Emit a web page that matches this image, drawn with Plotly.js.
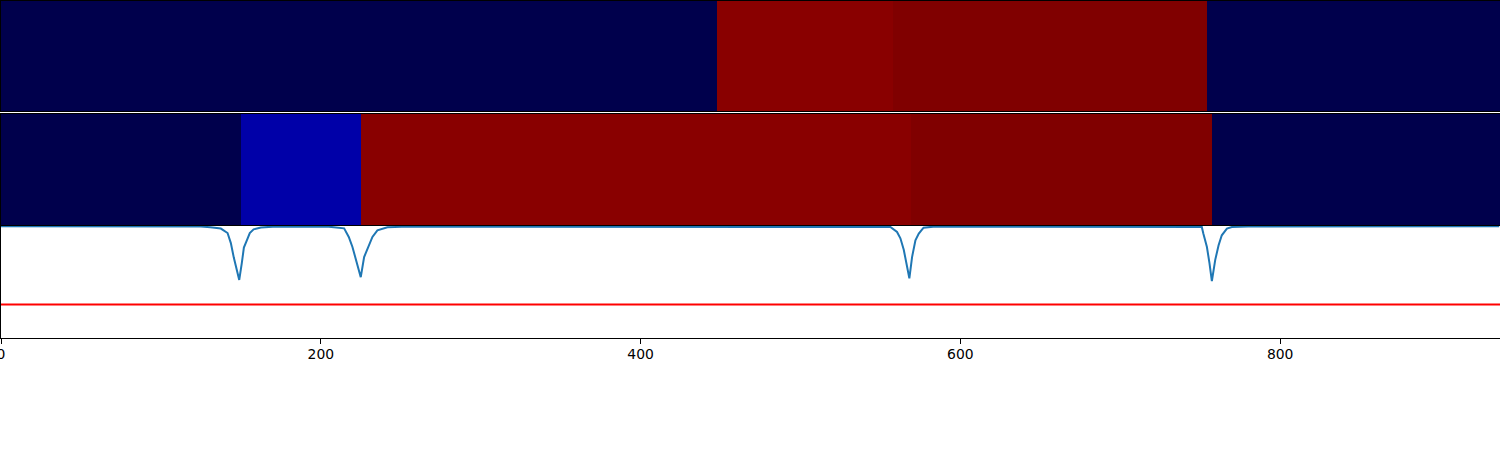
<!DOCTYPE html>
<html>
<head>
<meta charset="utf-8">
<script src="https://cdn.plot.ly/plotly-3.0.1.min.js"></script>
<style>html,body{margin:0;padding:0;background:#fff;}#chart{width:1500px;height:450px;}</style>
</head>
<body>
<div id="chart"></div>
<script>
// Band 1 (top row): segment edges and values (seismic colormap scale 0..1)
var band1Edges = [0, 448, 558, 754.5, 937.5];
var band1Values = [0, 0.983, 1.0, 0];

// Band 2 (middle row)
var band2Edges = [0, 150, 225, 569.4, 757.5, 937.5];
var band2Values = [0, 0.129, 0.983, 1.0, 0];

// Line series (bottom panel)
var lineX = [0, 100, 125, 131, 137.5, 141.7, 143.75, 145.6, 147.5, 149, 150.6, 151.9, 153.75, 155.6, 158, 162.5, 170, 190,
             205, 214.6, 217.5, 219.8, 221.9, 225, 227.1, 229.2, 232.3, 235.4, 241.7, 255,
             545, 556.25, 560.4, 562.5, 564.6, 566.7, 568.1, 569.8, 571.9, 574, 577, 583,
             745, 751, 752, 754.2, 755.8, 757.3, 759.4, 761.5, 763.5, 766.7, 769.8, 780, 937];
var lineY = [0, 0, -0.002, -0.008, -0.02, -0.06, -0.15, -0.28, -0.39, -0.48, -0.33, -0.19, -0.125, -0.06, -0.027, -0.01, -0.003, 0,
             -0.003, -0.018, -0.095, -0.185, -0.30, -0.455, -0.275, -0.20, -0.095, -0.036, -0.009, -0.002,
             -0.002, -0.006, -0.05, -0.107, -0.21, -0.36, -0.465, -0.275, -0.125, -0.065, -0.012, -0.003,
             -0.002, -0.006, -0.066, -0.185, -0.33, -0.49, -0.30, -0.17, -0.08, -0.02, -0.006, -0.002, 0];

// Threshold line
var thresholdY = -0.70;

// Axis ticks
var xTicks = [0, 200, 400, 600, 800];
var xRange = [0, 937.5];

var seismic = [
  [0.0, 'rgb(0,0,76)'],
  [0.25, 'rgb(0,0,255)'],
  [0.5, 'rgb(255,255,255)'],
  [0.75, 'rgb(255,0,0)'],
  [1.0, 'rgb(128,0,0)']
];

var traces = [
  {type: 'heatmap', x: band1Edges, y: [0, 1], z: [band1Values], colorscale: seismic, zmin: 0, zmax: 1,
   showscale: false, xaxis: 'x', yaxis: 'y', hoverinfo: 'skip'},
  {type: 'heatmap', x: band2Edges, y: [0, 1], z: [band2Values], colorscale: seismic, zmin: 0, zmax: 1,
   showscale: false, xaxis: 'x2', yaxis: 'y2', hoverinfo: 'skip'},
  {type: 'scatter', mode: 'lines', x: lineX, y: lineY, line: {color: '#1f77b4', width: 2},
   xaxis: 'x3', yaxis: 'y3', hoverinfo: 'skip', showlegend: false},
  {type: 'scatter', mode: 'lines', x: xRange, y: [thresholdY, thresholdY], line: {color: '#ff0000', width: 2},
   xaxis: 'x3', yaxis: 'y3', hoverinfo: 'skip', showlegend: false}
];

function frameAxis(extra) {
  var a = {showline: true, mirror: true, linecolor: '#000', linewidth: 1, showgrid: false, zeroline: false,
           ticks: '', showticklabels: false};
  for (var k in extra) a[k] = extra[k];
  return a;
}

var layout = {
  width: 1500, height: 450,
  margin: {l: 1, r: 0, t: 1, b: 112, pad: 0},
  paper_bgcolor: '#fff', plot_bgcolor: '#fff',
  showlegend: false,
  font: {family: 'DejaVu Sans', size: 13.9, color: '#000'},
  xaxis: frameAxis({domain: [0, 1], range: xRange, anchor: 'y'}),
  yaxis: frameAxis({domain: [0.67359, 1], range: [0, 1], anchor: 'x'}),
  xaxis2: frameAxis({domain: [0, 1], range: xRange, anchor: 'y2'}),
  yaxis2: frameAxis({domain: [0.33531, 0.66469], range: [0, 1], anchor: 'x2'}),
  xaxis3: frameAxis({domain: [0, 1], range: xRange, anchor: 'y3', ticks: 'outside', ticklen: 5, tickwidth: 1,
                     tickcolor: '#000', showticklabels: true, tickmode: 'array', tickvals: xTicks,
                     ticktext: xTicks.map(String), ticklabeloverflow: 'allow', ticklabelstandoff: -2,
                     tickfont: {family: 'DejaVu Sans', size: 13.9, color: '#000'}}),
  yaxis3: frameAxis({domain: [0, 0.33234], range: [-1, 0.003], anchor: 'x3'})
};

Plotly.newPlot('chart', traces, layout, {staticPlot: true, displayModeBar: false});
</script>
</body>
</html>
